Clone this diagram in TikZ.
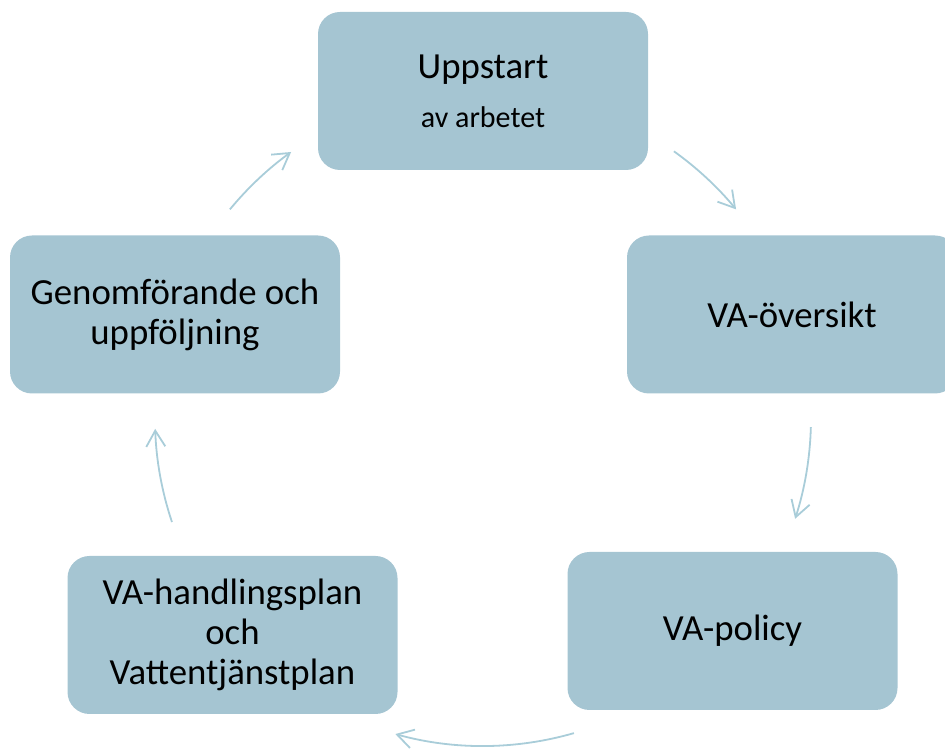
\documentclass[tikz,border=0pt]{standalone}
\usepackage{fontspec}
\setmainfont{Carlito}
\usetikzlibrary{arrows.meta}

\definecolor{boxblue}{HTML}{A5C5D2}
\definecolor{arrowblue}{HTML}{A9CDD9}

\begin{document}
\begin{tikzpicture}[x=1pt,y=1pt,
	stagebox/.style={fill=boxblue, rounded corners=22pt, minimum width=330pt, minimum height=158pt, inner sep=0pt, align=center, font=\fontsize{36.8}{40}\selectfont},
	cyclearrow/.style={draw=arrowblue, line width=1.8pt, -{Straight Barb[length=16pt,width=19pt]}}]
			
			\newcommand{\CycleR}{328}
			
			\useasboundingbox (0,0) rectangle (945,749);
			
			\coordinate (ctr) at (483,331);% middle of the cycle
			
			\node[stagebox] (uppstart) at (483,658) {Uppstart\\[9pt]{\fontsize{30}{34}\selectfont av arbetet}};
			\node[stagebox] (oversikt) at (792,434.5) {VA-översikt};
			\node[stagebox] (policy) at (732.5,118) {VA-policy};
			\node[stagebox] (handling) at (232.5,114) {VA-handlingsplan\\och\\ Vattentjänstplan};
			\node[stagebox] (genomforande) at (175,434.5) {Genomförande och\\uppföljning};
			
			\coordinate (a1) at ([shift={(54.4:\CycleR)}]ctr);
			\coordinate (a2) at ([shift={(-1.6:\CycleR)}]ctr);
			\coordinate (a3) at ([shift={(-73.9:\CycleR)}]ctr);
			\coordinate (a4) at ([shift={(198.5:\CycleR)}]ctr);
			\coordinate (a5) at ([shift={(140.5:\CycleR)}]ctr);
			
			\draw[cyclearrow] (a1) arc[start angle=54.4, end angle=39.5, radius=\CycleR];% to VA-oversikt
			\draw[cyclearrow] (a2) arc[start angle=-1.6, end angle=-17.9, radius=\CycleR];% to VA-policy
			\draw[cyclearrow] (a3) arc[start angle=-73.9, end angle=-105.5, radius=\CycleR];% to handlingsplan
			\draw[cyclearrow] (a4) arc[start angle=198.5, end angle=181.9, radius=\CycleR];% to genomforande
			\draw[cyclearrow] (a5) arc[start angle=140.5, end angle=125.8, radius=\CycleR];% back to uppstart
		\end{tikzpicture}
\end{document}
